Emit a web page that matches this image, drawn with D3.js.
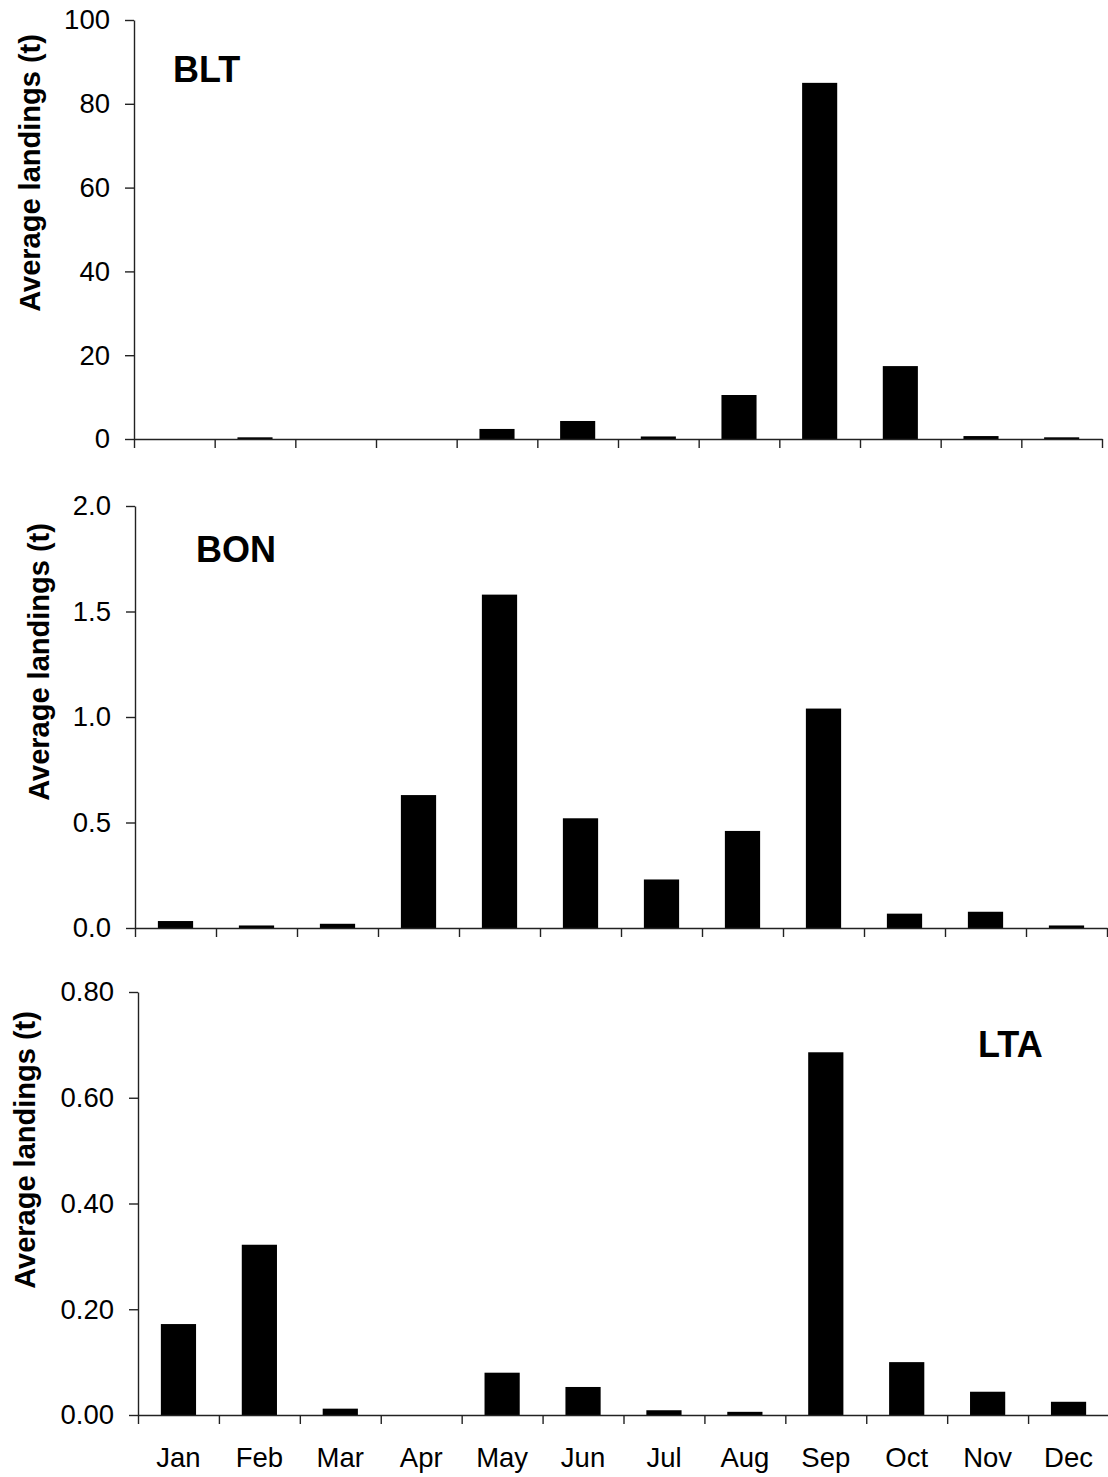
<!DOCTYPE html>
<html>
<head>
<meta charset="utf-8">
<script src="https://cdn.jsdelivr.net/npm/d3@7"></script>
<style>
  html, body { margin: 0; padding: 0; background: #fff; }
  svg { display: block; font-family: Arial, "Liberation Sans", sans-serif; }
  .domain, .tick line { stroke: #222; stroke-width: 1.4px; }
</style>
</head>
<body>
<svg id="chart" width="1108" height="1477"></svg>
<script>
// Datos
const months = ["Jan", "Feb", "Mar", "Apr", "May", "Jun", "Jul", "Aug", "Sep", "Oct", "Nov", "Dec"];
const bltValues = [0, 0.4, 0, 0, 2.4, 4.3, 0.6, 10.5, 85, 17.4, 0.7, 0.4];
const bonValues = [0.033, 0.012, 0.02, 0.63, 1.58, 0.52, 0.23, 0.46, 1.04, 0.068, 0.077, 0.012];
const ltaValues = [0.172, 0.322, 0.012, 0, 0.08, 0.053, 0.009, 0.006, 0.686, 0.1, 0.044, 0.025];
const bltTicks = [0, 20, 40, 60, 80, 100];
const bonTicks = [0, 0.5, 1.0, 1.5, 2.0];
const ltaTicks = [0, 0.2, 0.4, 0.6, 0.8];

const svg = d3.select("#chart");

// Configuración de cada panel
const panels = [
  { name: "BLT", values: bltValues, ticks: bltTicks, fmt: d3.format("d"),
    x0: 134, x1: 1102, top: 20, bottom: 439,
    titleX: 173, titleY: 82, labelX: 40, labelY: 173, showMonths: false },
  { name: "BON", values: bonValues, ticks: bonTicks, fmt: d3.format(".1f"),
    x0: 135, x1: 1107, top: 506, bottom: 928,
    titleX: 196, titleY: 562, labelX: 49, labelY: 662, showMonths: false },
  { name: "LTA", values: ltaValues, ticks: ltaTicks, fmt: d3.format(".2f"),
    x0: 138, x1: 1109, top: 992, bottom: 1415,
    titleX: 978, titleY: 1057, labelX: 35, labelY: 1150, showMonths: true }
];

panels.forEach(p => {
  const g = svg.append("g");

  const x = d3.scaleBand()
    .domain(months)
    .range([p.x0, p.x1])
    .paddingInner(0.565)
    .paddingOuter(0.2825);

  const y = d3.scaleLinear()
    .domain([0, d3.max(p.ticks)])
    .range([p.bottom, p.top]);

  // Barras
  g.selectAll("rect")
    .data(p.values)
    .enter()
    .append("rect")
    .attr("x", (d, i) => x(months[i]))
    .attr("width", x.bandwidth())
    .attr("y", d => y(d))
    .attr("height", d => y(0) - y(d))
    .attr("fill", "#000");

  // Eje Y
  const yAxis = g.append("g")
    .attr("transform", `translate(${p.x0},0)`)
    .call(d3.axisLeft(y).tickValues(p.ticks).tickFormat(p.fmt).tickSize(9).tickPadding(15).tickSizeOuter(0));
  yAxis.selectAll("text")
    .style("font-size", "27.5px")
    .attr("fill", "#000");

  // Eje X con marcas entre categorías
  const step = (p.x1 - p.x0) / months.length;
  const edges = d3.scaleLinear().domain([0, months.length]).range([p.x0, p.x1]);
  const xAxis = g.append("g")
    .attr("transform", `translate(0,${p.bottom})`)
    .call(d3.axisBottom(edges).tickValues(d3.range(months.length + 1)).tickFormat("").tickSize(9).tickSizeOuter(0));

  if (p.showMonths) {
    g.selectAll(".month")
      .data(months)
      .enter()
      .append("text")
      .attr("class", "month")
      .attr("x", d => x(d) + x.bandwidth() / 2)
      .attr("y", p.bottom + 52)
      .attr("text-anchor", "middle")
      .style("font-size", "27.5px")
      .text(d => d);
  }

  // Título de especie
  g.append("text")
    .attr("x", p.titleX)
    .attr("y", p.titleY)
    .style("font-size", "36px")
    .style("font-weight", "bold")
    .text(p.name);

  // Etiqueta del eje Y
  g.append("text")
    .attr("transform", `translate(${p.labelX},${p.labelY}) rotate(-90)`)
    .attr("text-anchor", "middle")
    .style("font-size", "29px")
    .style("font-weight", "bold")
    .text("Average landings (t)");
});
</script>
</body>
</html>
